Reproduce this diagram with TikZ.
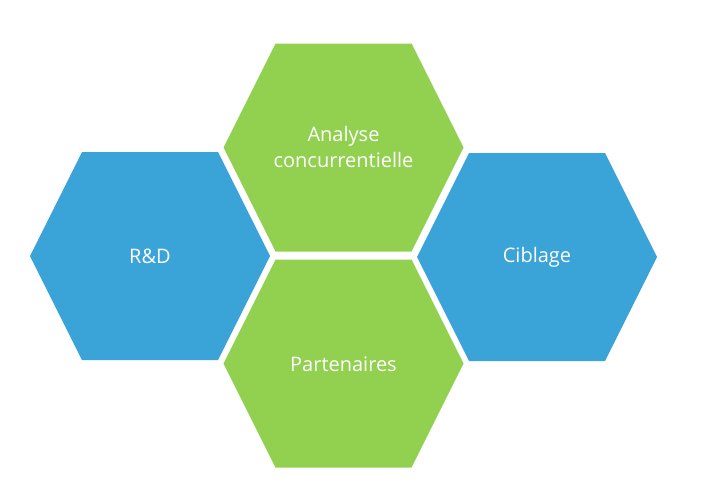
\documentclass[tikz,border=0pt]{standalone}
\usepackage{fontspec}
\setmainfont{Open Sans}
\usepackage{tikz}
\usetikzlibrary{calc}
\definecolor{hexblue}{HTML}{3AA3D7}
\definecolor{hexgreen}{HTML}{92D050}
\def\hexa[#1](#2){\fill[#1] ($(#2)+(-120,0)$) -- ($(#2)+(-68,-104)$) -- ($(#2)+(68,-104)$) -- ($(#2)+(120,0)$) -- ($(#2)+(68,104)$) -- ($(#2)+(-68,104)$) -- cycle;}
\tikzset{hextext/.style={text=white, align=center, font=\fontsize{20}{26}\selectfont}}

\begin{document}
\begin{tikzpicture}[x=1pt, y=-1pt]
			%%%%% START %%%%%
			
			\useasboundingbox (0, 0) rectangle (712, 493);
			
			\hexa[hexblue](150, 256);
			\hexa[hexgreen](343.5, 147.5);
			\hexa[hexgreen](343.5, 363.5);
			\hexa[hexblue](537, 257);
			
			\node[hextext] (rd) at (150, 256) {R\&D};
			\node[hextext] (analyse) at (343.5, 147) {Analyse\\concurrentielle};
			\node[hextext] (partenaires) at (343.5, 364) {Partenaires};
			\node[hextext] (ciblage) at (537, 257) {Ciblage};
			
			%%%%% END %%%%%
\end{tikzpicture}
\end{document}
